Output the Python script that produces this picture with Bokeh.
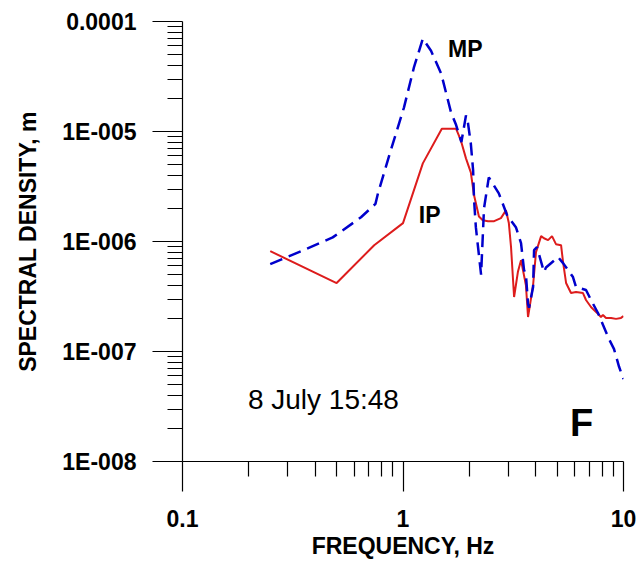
from bokeh.plotting import figure
from bokeh.models import Range1d, FixedTicker, CustomJSTickFormatter, Label
from bokeh.embed import file_html
from bokeh.resources import INLINE

# ---- data ----
ip_freq = [0.25, 0.50, 0.74, 1.00, 1.23, 1.50, 1.74, 1.83, 1.93, 2.03, 2.10, 2.21,
           2.30, 2.43, 2.59, 2.78, 2.93, 3.02, 3.09, 3.19, 3.32, 3.43, 3.61, 3.69,
           3.89, 4.01, 4.23, 4.36, 4.55, 4.74, 4.94, 5.21, 5.32, 5.49, 5.78, 6.09,
           6.55, 6.76, 7.12, 7.35, 7.66, 7.90, 8.07, 8.33, 8.78, 9.25, 9.74, 10.0]
ip_density = [8.17e-7, 4.19e-7, 9.25e-7, 1.47e-6, 5.13e-6, 1.06e-5, 1.06e-5, 8.3e-6,
              5.7e-6, 4.25e-6, 2.63e-6, 1.69e-6, 1.56e-6, 1.53e-6, 1.53e-6, 1.63e-6,
              1.92e-6, 1.47e-6, 8.9e-7, 3.13e-7, 5.3e-7, 6.77e-7, 4.0e-7, 2.06e-7,
              4.0e-7, 8.0e-7, 1.12e-6, 1.07e-6, 1.03e-6, 1.12e-6, 9.46e-7, 9.25e-7,
              6.5e-7, 4.2e-7, 3.40e-7, 3.47e-7, 3.40e-7, 2.94e-7, 2.54e-7, 2.38e-7,
              2.2e-7, 2.06e-7, 2.15e-7, 2.02e-7, 2.02e-7, 1.98e-7, 2.02e-7, 2.10e-7]

mp_freq = [0.25, 0.345, 0.48, 0.645, 0.75, 0.77, 0.88, 1.01, 1.12, 1.23, 1.34, 1.49,
           1.65, 1.74, 1.84, 1.93, 1.97, 2.03, 2.08, 2.10, 2.14, 2.21, 2.26, 2.33,
           2.45, 2.72, 2.99, 3.09, 3.25, 3.43, 3.54, 3.61, 3.69, 3.73, 3.89, 3.93,
           4.05, 4.36, 4.45, 5.05, 5.32, 5.90, 6.09, 6.76, 7.12, 7.66, 8.59, 9.06,
           9.54, 10.0]
mp_density = [6.23e-7, 8.17e-7, 1.09e-6, 1.66e-6, 2.2e-6, 2.74e-6, 6.73e-6, 1.65e-5,
              3.80e-5, 6.97e-5, 5.42e-5, 3.36e-5, 1.5e-5, 1.15e-5, 8.0e-6, 1.40e-5,
              1.2e-5, 7.8e-6, 4.4e-6, 2.4e-6, 1.35e-6, 7.5e-7, 5.0e-7, 2.0e-6,
              3.83e-6, 2.74e-6, 1.66e-6, 1.55e-6, 1.35e-6, 9.66e-7, 5.5e-7, 5.0e-7,
              2.7e-7, 2.5e-7, 3.85e-7, 8.34e-7, 8.88e-7, 5.27e-7, 5.8e-7, 7.21e-7,
              6.36e-7, 4.75e-7, 3.85e-7, 3.62e-7, 2.94e-7, 2.24e-7, 1.30e-7, 1.05e-7,
              7.3e-8, 5.6e-8]

x_ticks = [0.1, 1, 10]
x_tick_labels = ["0.1", "1", "10"]
x_minor = [0.2, 0.3, 0.4, 0.5, 0.6, 0.7, 0.8, 0.9, 2, 3, 4, 5, 6, 7, 8, 9]
y_ticks = [1e-8, 1e-7, 1e-6, 1e-5, 1e-4]
y_tick_labels = ["1E-008", "1E-007", "1E-006", "1E-005", "0.0001"]
y_minor = [m * 10.0 ** e for e in range(-8, -4) for m in range(2, 10)]

FONT = "Liberation Sans"

p = figure(width=640, height=561, x_axis_type="log", y_axis_type="log",
           x_range=Range1d(0.1, 10), y_range=Range1d(1e-8, 1e-4),
           output_backend="svg", toolbar_location=None,
           min_border_left=182, min_border_right=17, min_border_top=21,
           min_border_bottom=99)
p.outline_line_color = None
p.xgrid.visible = False
p.ygrid.visible = False
p.background_fill_color = "white"
p.border_fill_color = "white"

fmt_code = """
let best = 0, d = Infinity;
for (let i = 0; i < tvals.length; i++) {
  const e = Math.abs(Math.log10(tick) - Math.log10(tvals[i]));
  if (e < d) { d = e; best = i; }
}
return labs[best];
"""
p.xaxis.ticker = FixedTicker(ticks=x_ticks, minor_ticks=x_minor)
p.xaxis.formatter = CustomJSTickFormatter(args=dict(tvals=x_ticks, labs=x_tick_labels), code=fmt_code)
p.yaxis.ticker = FixedTicker(ticks=y_ticks, minor_ticks=y_minor)
p.yaxis.formatter = CustomJSTickFormatter(args=dict(tvals=y_ticks, labs=y_tick_labels), code=fmt_code)

for ax in (p.xaxis, p.yaxis):
    ax.axis_line_color = "black"
    ax.axis_line_width = 1.2
    ax.major_tick_out = 30
    ax.major_tick_in = 0
    ax.minor_tick_out = 15
    ax.minor_tick_in = 0
    ax.major_tick_line_color = "black"
    ax.minor_tick_line_color = "black"
    ax.major_tick_line_width = 1.2
    ax.minor_tick_line_width = 1.2
    ax.major_label_text_font = FONT
    ax.major_label_text_font_style = "bold"
    ax.major_label_text_font_size = "23px"
    ax.major_label_text_color = "black"
    ax.axis_label_text_font = FONT
    ax.axis_label_text_font_style = "bold"
    ax.axis_label_text_font_size = "23px"
    ax.axis_label_text_color = "black"

p.xaxis.axis_label = "FREQUENCY, Hz"
p.xaxis.major_label_standoff = 18
p.xaxis.axis_label_standoff = 3
p.yaxis.axis_label = "SPECTRAL DENSITY, m"
p.yaxis.major_label_standoff = 16
p.yaxis.axis_label_standoff = 18

p.line(ip_freq, ip_density, line_color="#dd1c1c", line_width=2)
p.line(mp_freq, mp_density, line_color="#0000cc", line_width=2.5, line_dash="13 7")

def lab(x, y, t, size, style="bold"):
    p.add_layout(Label(x=x, y=y, text=t,
                       text_font=FONT, text_font_size=size,
                       text_font_style=style, text_color="black",
                       text_align="left", text_baseline="alphabetic",
                       level="overlay"))

lab(1.60, 5.65e-5, "MP", "23px")
lab(1.18, 1.73e-6, "IP", "23px")
lab(0.198, 3.64e-8, "8 July 15:48", "28px", "normal")
lab(5.72, 2.25e-8, "F", "38px")

open("out.html", "w").write(file_html(p, INLINE))
